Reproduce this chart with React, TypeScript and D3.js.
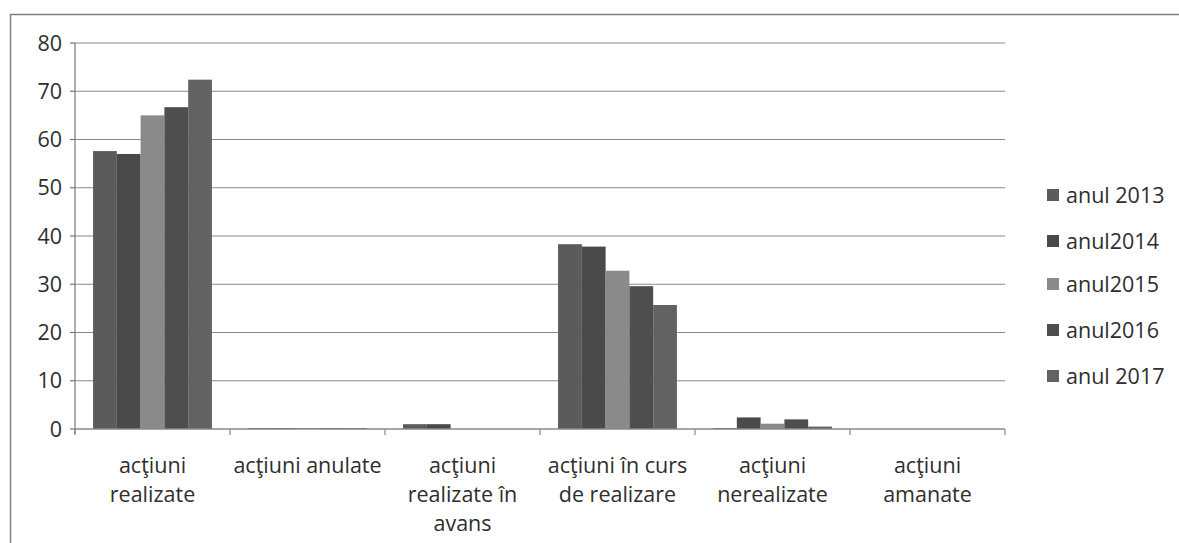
import { useEffect, useRef } from "react";
import * as d3 from "d3";

const categories = [
  ["acţiuni", "realizate"],
  ["acţiuni anulate"],
  ["acţiuni", "realizate în", "avans"],
  ["acţiuni în curs", "de realizare"],
  ["acţiuni", "nerealizate"],
  ["acţiuni", "amanate"],
];

const seriesNames = ["anul 2013", "anul2014", "anul2015", "anul2016", "anul 2017"];
const seriesColors = ["#5b5b5b", "#4a4a4a", "#8a8a8a", "#4e4e4e", "#626262"];

const v2013 = [57.6, 0.2, 1, 38.3, 0.2, 0];
const v2014 = [57, 0.2, 1, 37.8, 2.4, 0];
const v2015 = [65, 0.2, 0, 32.8, 1.1, 0];
const v2016 = [66.7, 0.2, 0, 29.6, 2, 0];
const v2017 = [72.4, 0.2, 0, 25.7, 0.5, 0];
const seriesValues = [v2013, v2014, v2015, v2016, v2017];

const yTicks = [0, 10, 20, 30, 40, 50, 60, 70, 80];

const W = 1179;
const H = 543;
const FONT = "'Open Sans', sans-serif";
const FS = 21.5;
const TXT = "#2e2e2e";

export default function App() {
  const ref = useRef<SVGSVGElement>(null);

  useEffect(() => {
    if (!ref.current) return;
    const svg = d3.select(ref.current);
    svg.selectAll("*").remove();

    const left = 75, right = 1005, top = 43, bottom = 429;

    // frame
    svg.append("rect")
      .attr("x", 10.5).attr("y", 14.5)
      .attr("width", W + 20).attr("height", H + 20)
      .attr("fill", "#fff").attr("stroke", "#808080").attr("stroke-width", 1.5);

    const x = d3.scaleBand<number>()
      .domain(d3.range(categories.length))
      .range([left, right]);
    const x1 = d3.scaleBand<number>()
      .domain(d3.range(seriesNames.length))
      .range([0, x.bandwidth()])
      .paddingOuter(0.76);
    const y = d3.scaleLinear().domain([0, 80]).range([bottom, top]);

    // gridlines
    svg.append("g").selectAll("line")
      .data(yTicks.filter(t => t > 0))
      .join("line")
      .attr("x1", left).attr("x2", right)
      .attr("y1", d => y(d)).attr("y2", d => y(d))
      .attr("stroke", "#8a8a8a").attr("stroke-width", 1.2);

    // y labels
    svg.append("g").selectAll("text")
      .data(yTicks)
      .join("text")
      .attr("x", 62).attr("y", d => y(d))
      .attr("dy", "0.35em")
      .attr("text-anchor", "end")
      .attr("font-family", FONT).attr("font-size", FS)
      .attr("fill", TXT)
      .text(d => d);

    // bars
    seriesValues.forEach((vals, si) => {
      svg.append("g").selectAll("rect")
        .data(vals)
        .join("rect")
        .attr("x", (_, i) => (x(i) as number) + (x1(si) as number))
        .attr("width", x1.bandwidth())
        .attr("y", d => y(d))
        .attr("height", d => bottom - y(d))
        .attr("fill", seriesColors[si]);
    });

    // y axis + ticks
    svg.append("line")
      .attr("x1", left).attr("x2", left)
      .attr("y1", top).attr("y2", bottom + 5)
      .attr("stroke", "#777").attr("stroke-width", 1.2);
    svg.append("g").selectAll("line")
      .data(yTicks)
      .join("line")
      .attr("x1", left - 5).attr("x2", left)
      .attr("y1", d => y(d)).attr("y2", d => y(d))
      .attr("stroke", "#777").attr("stroke-width", 1.2);

    // x axis
    svg.append("line")
      .attr("x1", left).attr("x2", right)
      .attr("y1", bottom).attr("y2", bottom)
      .attr("stroke", "#888").attr("stroke-width", 1.4);
    svg.append("g").selectAll("line")
      .data(d3.range(categories.length + 1))
      .join("line")
      .attr("x1", d => left + d * x.step()).attr("x2", d => left + d * x.step())
      .attr("y1", bottom).attr("y2", bottom + 6)
      .attr("stroke", "#888").attr("stroke-width", 1.2);

    // x labels
    const xl = svg.append("g").selectAll("text")
      .data(categories)
      .join("text")
      .attr("x", (_, i) => (x(i) as number) + x.bandwidth() / 2)
      .attr("y", 473)
      .attr("text-anchor", "middle")
      .attr("font-family", FONT).attr("font-size", FS)
      .attr("fill", TXT);
    xl.selectAll("tspan")
      .data(d => d)
      .join("tspan")
      .attr("x", function () {
        return (this.parentNode as SVGTextElement).getAttribute("x");
      })
      .attr("dy", (_, j) => (j === 0 ? 0 : 29))
      .text(d => d);

    // legend
    const legY = [195, 241, 284, 330, 376];
    const leg = svg.append("g").selectAll("g")
      .data(seriesNames)
      .join("g")
      .attr("transform", (_, i) => `translate(1047,${legY[i]})`);
    leg.append("rect")
      .attr("x", 0).attr("y", -6).attr("width", 12).attr("height", 12)
      .attr("fill", (_, i) => seriesColors[i]);
    leg.append("text")
      .attr("x", 19).attr("dy", "0.35em")
      .attr("font-family", FONT).attr("font-size", FS)
      .attr("fill", TXT)
      .text(d => d);
  }, []);

  return (
    <div style={{ position: "absolute", left: 0, top: 0, width: W, height: H, overflow: "hidden", background: "#fff" }}>
      <svg ref={ref} width={W} height={H} />
    </div>
  );
}
